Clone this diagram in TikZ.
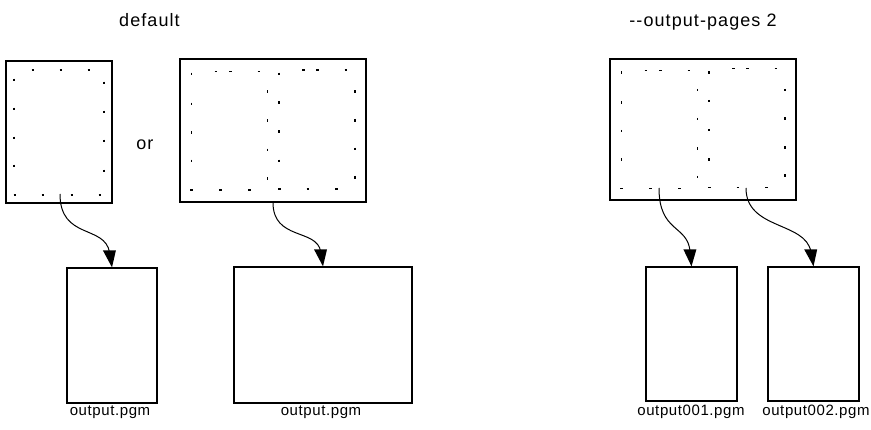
\documentclass[tikz,border=0pt]{standalone}
\usepackage{fontspec}
\setmainfont{Liberation Sans}
\newfontfamily\capfont[LetterSpace=6]{Liberation Sans}
\newfontfamily\filefont[LetterSpace=4]{Liberation Sans}

% filled arrowhead ending on the top edge of a node, tilted by #2
\newcommand\arrowhead[2]{\fill (#1.north) -- ++(-6.5-#2,-17) -- ++(13,0) -- cycle;}

\begin{document}
\begin{tikzpicture}[x=1pt,y=-1pt,
  sheet/.style 2 args={draw,line width=1.2pt,inner sep=0pt,
    minimum width=#1pt,minimum height=#2pt},
  tick/.style={line width=1.2pt},
  conn/.style={line width=1pt,shorten >=15pt},
  caption/.style={anchor=base,inner sep=0pt,font=\capfont\fontsize{18}{20}\selectfont},
  filename/.style={anchor=base,inner sep=0pt,font=\filefont\fontsize{15}{17}\selectfont}]

\useasboundingbox (0,0) rectangle (871,430);

% input pages
\node (page1) [sheet={106}{142}] at (59,132) {};
\node (page2) [sheet={186}{143}] at (273,130.5) {};
\node (page3) [sheet={186}{141}] at (703,129.5) {};

% output images
\node (outA) [sheet={90}{135}] at (112,335.5) {};
\node (outB) [sheet={178}{136}] at (323,335) {};
\node (outC) [sheet={91}{134}] at (691.5,334) {};
\node (outD) [sheet={91}{134}] at (813.5,334) {};

% dotted page margins: single page
\foreach \x in {33,61,89} \draw[tick] (\x-1.3,70) -- (\x+1.3,70);
\foreach \x in {15,43,72,100} \draw[tick] (\x-1.3,195) -- (\x+1.3,195);
\foreach \y in {80,109,138,166} \draw[tick] (14,\y-1.3) -- (14,\y+1.3);
\foreach \y in {83,112,141,171} \draw[tick] (104,\y-1.3) -- (104,\y+1.3);

% dotted page margins: two pages side by side
\foreach \dx/\dy in {0/0,430/-1.5}{
  \begin{scope}[shift={(\dx,\dy)}]
    \foreach \x in {216,230.7,259} \draw[tick] (\x-1.3,71.7) -- (\x+1.3,71.7);
    \foreach \x in {303.3,317.7,346} \draw[tick] (\x-1.3,70) -- (\x+1.3,70);
    \foreach \x in {191.7,220.7,249.3} \draw[tick] (\x-1.3,190) -- (\x+1.3,190);
    \foreach \x in {279.3,308,336.7} \draw[tick] (\x-1.3,189) -- (\x+1.3,189);
    \foreach \y in {74,104,132.7,161} \draw[tick] (191.7,\y-1.3) -- (191.7,\y+1.3);
    \foreach \y in {91.7,120.7,150,178.7} \draw[tick] (267.7,\y-1.3) -- (267.7,\y+1.3);
    \foreach \y in {74,102.7,131.7,161} \draw[tick] (279,\y-1.3) -- (279,\y+1.3);
    \foreach \y in {91.7,120.3,149,177.3} \draw[tick] (355,\y-1.3) -- (355,\y+1.3);
  \end{scope}
}

% connector start points
\coordinate (s1) at (60,194);
\coordinate (s3) at (659,188);
\coordinate (s4) at (746,188);

\draw[conn] (s1) .. controls +(0,46) and +(-7,-43) .. (outA.north);
\draw[conn] (page2.south) .. controls +(0,38) and +(-6,-38) .. (outB.north);
\draw[conn] (s3) .. controls +(0,45) and +(-4,-42) .. (outC.north);
\draw[conn] (s4) .. controls +(0,42) and +(-8,-45) .. (outD.north);
\arrowhead{outA}{2.6}
\arrowhead{outB}{2.5}
\arrowhead{outC}{1.6}
\arrowhead{outD}{2.8}

% captions
\node (capdefault) [caption] at (149.5,26.5) {default};
\node (capor) [caption] at (144.8,150) {or};
\node (cappages) [caption] at (703,26.5) {-{}-output-pages 2};

% file names
\node (nameA) [filename] at (110,416) {output.pgm};
\node (nameB) [filename] at (321,416) {output.pgm};
\node (nameC) [filename] at (691,416) {output001.pgm};
\node (nameD) [filename] at (816,416) {output002.pgm};
\end{tikzpicture}
\end{document}
